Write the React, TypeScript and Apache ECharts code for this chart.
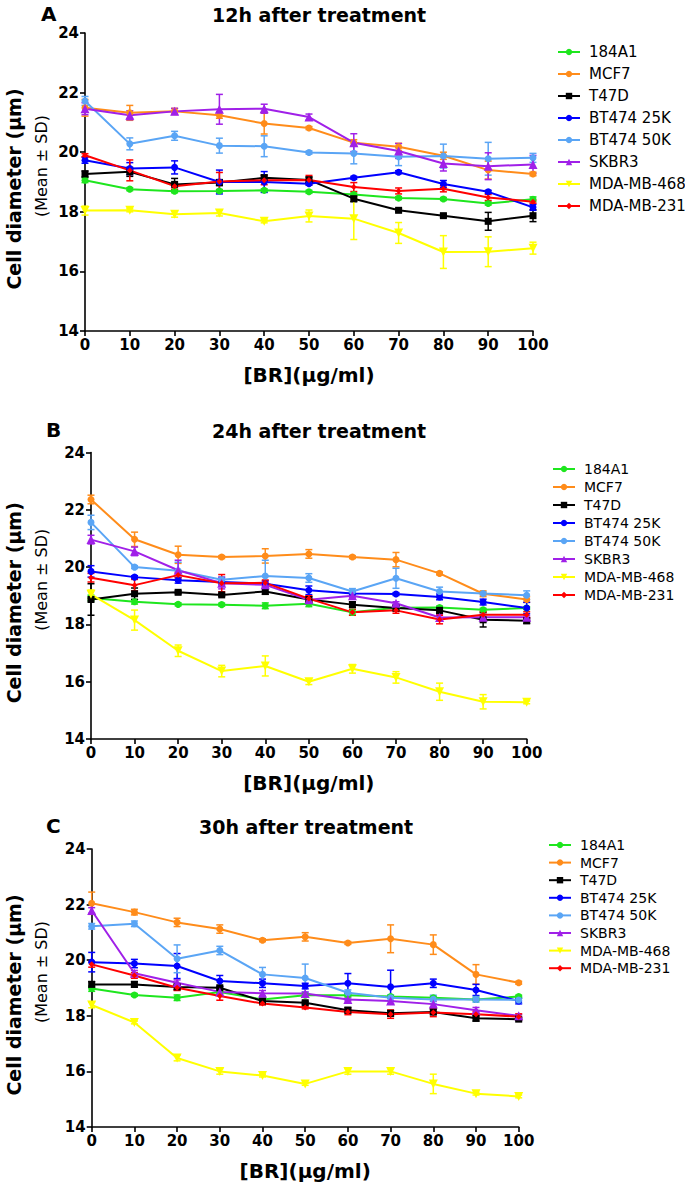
import React, { useEffect, useRef } from "react";
import * as echarts from "echarts";

// ---------- DATA ----------
const doses = [0, 10, 20, 30, 40, 50, 60, 70, 80, 90, 100];
const cellLines = ["184A1", "MCF7", "T47D", "BT474 25K", "BT474 50K", "SKBR3", "MDA-MB-468", "MDA-MB-231"];
const panelTitles = ["12h after treatment", "24h after treatment", "30h after treatment"];
const panelLetters = ["A", "B", "C"];
const xAxisTitle = "[BR](μg/ml)";
const yAxisTitle = "Cell diameter (μm)";
const yAxisSubtitle = "(Mean ± SD)";

// Panel A – 12 h (means)
const a184A1 = [19.06, 18.76, 18.69, 18.70, 18.72, 18.67, 18.58, 18.46, 18.43, 18.28, 18.42];
const aMCF7 = [21.49, 21.32, 21.37, 21.24, 20.96, 20.81, 20.32, 20.18, 19.88, 19.40, 19.27];
const aT47D = [19.27, 19.34, 18.92, 18.98, 19.14, 19.07, 18.44, 18.05, 17.87, 17.68, 17.87];
const aBT25 = [19.73, 19.45, 19.49, 19.00, 19.00, 18.94, 19.14, 19.33, 18.93, 18.67, 18.15];
const aBT50 = [21.72, 20.28, 20.55, 20.22, 20.20, 19.99, 19.96, 19.85, 19.87, 19.78, 19.81];
const aSKBR3 = [21.46, 21.24, 21.37, 21.44, 21.46, 21.18, 20.32, 20.04, 19.62, 19.53, 19.59];
const a468 = [18.04, 18.05, 17.92, 17.96, 17.68, 17.86, 17.77, 17.29, 16.65, 16.66, 16.78];
const a231 = [19.90, 19.39, 18.86, 19.02, 19.06, 19.07, 18.83, 18.70, 18.77, 18.48, 18.34];
// Panel A – SD
const a184A1Sd = [0.08, 0.05, 0.05, 0.05, 0.05, 0.05, 0.05, 0.05, 0.05, 0.05, 0.08];
const aMCF7Sd = [0.28, 0.25, 0.1, 0.1, 0.35, 0.05, 0.1, 0.12, 0.12, 0.3, 0.06];
const aT47DSd = [0.1, 0.15, 0.2, 0.1, 0.1, 0.1, 0.1, 0.05, 0.05, 0.3, 0.2];
const aBT25Sd = [0.1, 0.2, 0.22, 0.4, 0.35, 0.05, 0.05, 0.05, 0.12, 0.05, 0.1];
const aBT50Sd = [0.15, 0.2, 0.15, 0.25, 0.35, 0.05, 0.35, 0.3, 0.4, 0.55, 0.15];
const aSKBR3Sd = [0.2, 0.15, 0.1, 0.5, 0.15, 0.1, 0.3, 0.25, 0.25, 0.45, 0.3];
const a468Sd = [0.15, 0.05, 0.1, 0.1, 0.05, 0.2, 0.7, 0.35, 0.55, 0.5, 0.2];
const a231Sd = [0.05, 0.35, 0.1, 0.3, 0.15, 0.15, 0.15, 0.1, 0.1, 0.1, 0.05];

// Panel B – 24 h (means)
const b184A1 = [18.92, 18.79, 18.70, 18.69, 18.65, 18.72, 18.42, 18.58, 18.59, 18.51, 18.57];
const bMCF7 = [22.36, 20.97, 20.43, 20.35, 20.39, 20.46, 20.35, 20.26, 19.78, 19.07, 18.87];
const bT47D = [18.87, 19.07, 19.12, 19.03, 19.15, 18.87, 18.69, 18.57, 18.49, 18.16, 18.13];
const bBT25 = [19.85, 19.65, 19.54, 19.48, 19.42, 19.19, 19.08, 19.06, 18.96, 18.78, 18.57];
const bBT50 = [21.56, 20.00, 19.87, 19.56, 19.69, 19.62, 19.15, 19.61, 19.15, 19.08, 19.02];
const bSKBR3 = [20.96, 20.55, 19.89, 19.44, 19.38, 18.86, 19.00, 18.74, 18.24, 18.25, 18.25];
const b468 = [19.05, 18.15, 17.08, 16.37, 16.55, 16.00, 16.45, 16.15, 15.65, 15.30, 15.28];
const b231 = [19.63, 19.37, 19.72, 19.44, 19.45, 18.90, 18.42, 18.49, 18.17, 18.34, 18.34];
// Panel B – SD
const b184A1Sd = [0.1, 0.08, 0.05, 0.05, 0.1, 0.1, 0.1, 0.05, 0.05, 0.05, 0.05];
const bMCF7Sd = [0.15, 0.25, 0.3, 0.05, 0.25, 0.15, 0.05, 0.25, 0.05, 0.1, 0.1];
const bT47DSd = [0.55, 0.2, 0.05, 0.05, 0.1, 0.1, 0.1, 0.1, 0.1, 0.25, 0.1];
const bBT25Sd = [0.2, 0.05, 0.1, 0.1, 0.1, 0.15, 0.1, 0.05, 0.1, 0.1, 0.2];
const bBT50Sd = [0.25, 0.05, 0.3, 0.1, 0.55, 0.15, 0.1, 0.35, 0.15, 0.05, 0.15];
const bSKBR3Sd = [0.15, 0.15, 0.35, 0.2, 0.1, 0.1, 0.05, 0.05, 0.1, 0.1, 0.05];
const b468Sd = [0.15, 0.35, 0.2, 0.2, 0.35, 0.1, 0.15, 0.2, 0.3, 0.25, 0.05];
const b231Sd = [0.15, 0.2, 0.1, 0.3, 0.1, 0.1, 0.1, 0.1, 0.15, 0.1, 0.1];

// Panel C – 30 h (means)
const c184A1 = [18.98, 18.75, 18.65, 18.86, 18.59, 18.74, 18.74, 18.69, 18.65, 18.59, 18.69];
const cMCF7 = [22.05, 21.73, 21.36, 21.12, 20.72, 20.84, 20.62, 20.77, 20.56, 19.49, 19.19];
const cT47D = [19.13, 19.13, 19.04, 19.01, 18.53, 18.47, 18.20, 18.09, 18.14, 17.91, 17.88];
const cBT25 = [19.93, 19.88, 19.79, 19.25, 19.17, 19.07, 19.17, 19.04, 19.17, 18.93, 18.53];
const cBT50 = [21.22, 21.31, 20.05, 20.35, 19.49, 19.36, 18.83, 18.65, 18.59, 18.59, 18.57];
const cSKBR3 = [21.79, 19.53, 19.19, 18.86, 18.81, 18.80, 18.59, 18.53, 18.42, 18.20, 18.00];
const c468 = [18.39, 17.76, 16.48, 16.00, 15.85, 15.55, 16.00, 16.00, 15.55, 15.20, 15.10];
const c231 = [19.85, 19.45, 19.01, 18.71, 18.44, 18.30, 18.14, 18.06, 18.12, 18.06, 17.97];
// Panel C – SD
const c184A1Sd = [0.1, 0.05, 0.1, 0.05, 0.05, 0.05, 0.05, 0.05, 0.05, 0.05, 0.05];
const cMCF7Sd = [0.4, 0.1, 0.15, 0.15, 0.05, 0.15, 0.05, 0.5, 0.35, 0.35, 0.05];
const cT47DSd = [0.1, 0.1, 0.1, 0.05, 0.05, 0.05, 0.1, 0.1, 0.1, 0.1, 0.05];
const cBT25Sd = [0.35, 0.15, 0.45, 0.2, 0.15, 0.1, 0.35, 0.6, 0.15, 0.2, 0.1];
const cBT50Sd = [0.1, 0.1, 0.5, 0.15, 0.25, 0.5, 0.1, 0.1, 0.15, 0.1, 0.1];
const cSKBR3Sd = [0.1, 0.1, 0.1, 0.1, 0.1, 0.05, 0.05, 0.1, 0.1, 0.1, 0.05];
const c468Sd = [0.1, 0.05, 0.1, 0.1, 0.05, 0.05, 0.1, 0.1, 0.35, 0.05, 0.05];
const c231Sd = [0.1, 0.1, 0.1, 0.15, 0.05, 0.05, 0.1, 0.15, 0.15, 0.1, 0.1];

const panelMeans = [
  [a184A1, aMCF7, aT47D, aBT25, aBT50, aSKBR3, a468, a231],
  [b184A1, bMCF7, bT47D, bBT25, bBT50, bSKBR3, b468, b231],
  [c184A1, cMCF7, cT47D, cBT25, cBT50, cSKBR3, c468, c231],
];
const panelSds = [
  [a184A1Sd, aMCF7Sd, aT47DSd, aBT25Sd, aBT50Sd, aSKBR3Sd, a468Sd, a231Sd],
  [b184A1Sd, bMCF7Sd, bT47DSd, bBT25Sd, bBT50Sd, bSKBR3Sd, b468Sd, b231Sd],
  [c184A1Sd, cMCF7Sd, cT47DSd, cBT25Sd, cBT50Sd, cSKBR3Sd, c468Sd, c231Sd],
];

// ---------- STYLE / LAYOUT ----------
const lineColors = ["#1ee61e", "#ff8c1a", "#000000", "#0000ff", "#5aa5f5", "#a020e8", "#ffff00", "#ff0000"];
const markerShapes = ["circle", "circle", "rect", "circle", "circle", "triangle", "triangle", "diamond"];
const markerRotations = [0, 0, 0, 0, 0, 0, 180, 0];
const markerSizes = [7, 7, 7, 7, 7, 9, 9, 6];

const FONT = "'DejaVu Sans', 'Liberation Sans', sans-serif";

const grids = [
  { left: 85, top: 33, width: 448, height: 298 },
  { left: 91, top: 452.5, width: 435.7, height: 286.5 },
  { left: 91.7, top: 849, width: 427, height: 278 },
];
const legendPos = [
  { left: 552, top: 39, gap: 6, fs: 15 },
  { left: 547, top: 456, gap: 2, fs: 14 },
  { left: 543, top: 832, gap: 1.6, fs: 14 },
];
const titlePos = [
  { x: 212, y: 14.5 },
  { x: 212, y: 431 },
  { x: 199, y: 827 },
];
const letterPos = [
  { x: 41, y: 14 },
  { x: 46, y: 430 },
  { x: 46, y: 826 },
];

function buildOption() {
  const xAxis: any[] = [];
  const yAxis: any[] = [];
  const series: any[] = [];
  const legend: any[] = [];
  const graphic: any[] = [];

  grids.forEach((g, p) => {
    xAxis.push({
      type: "value",
      gridIndex: p,
      min: 0,
      max: 100,
      interval: 10,
      name: xAxisTitle,
      nameLocation: "middle",
      nameGap: 34,
      nameTextStyle: { fontFamily: FONT, fontWeight: "bold", fontSize: 20, color: "#000" },
      axisLine: { show: true, lineStyle: { color: "#000", width: 1.6 } },
      axisTick: { show: true, inside: false, length: 5, lineStyle: { color: "#000", width: 1.6 } },
      axisLabel: { fontFamily: FONT, fontWeight: "bold", fontSize: 15, color: "#000", margin: 6 },
      splitLine: { show: false },
    });
    yAxis.push({
      type: "value",
      gridIndex: p,
      min: 14,
      max: 24,
      interval: 2,
      axisLine: { show: true, lineStyle: { color: "#000", width: 1.6 } },
      axisTick: { show: true, inside: false, length: 5, lineStyle: { color: "#000", width: 1.6 } },
      axisLabel: { fontFamily: FONT, fontWeight: "bold", fontSize: 15, color: "#000", margin: 6 },
      splitLine: { show: false },
    });

    cellLines.forEach((name, s) => {
      const color = lineColors[s];
      const means = panelMeans[p][s];
      const sds = panelSds[p][s];
      series.push({
        type: "custom",
        name: name + " SD",
        xAxisIndex: p,
        yAxisIndex: p,
        silent: true,
        z: 2,
        encode: { x: 0, y: [1, 2] },
        data: doses.map((d, i) => [d, means[i] - sds[i], means[i] + sds[i]]),
        renderItem: (params: any, api: any) => {
          const x = api.value(0);
          const top = api.coord([x, api.value(2)]);
          const bot = api.coord([x, api.value(1)]);
          const w = 3.5;
          const st = { stroke: color, lineWidth: 1.5 };
          return {
            type: "group",
            children: [
              { type: "line", shape: { x1: top[0], y1: top[1], x2: bot[0], y2: bot[1] }, style: st },
              { type: "line", shape: { x1: top[0] - w, y1: top[1], x2: top[0] + w, y2: top[1] }, style: st },
              { type: "line", shape: { x1: bot[0] - w, y1: bot[1], x2: bot[0] + w, y2: bot[1] }, style: st },
            ],
          };
        },
      });
      series.push({
        type: "line",
        name,
        xAxisIndex: p,
        yAxisIndex: p,
        z: 3,
        data: doses.map((d, i) => [d, means[i]]),
        symbol: markerShapes[s],
        symbolRotate: markerRotations[s],
        symbolSize: markerSizes[s],
        showAllSymbol: true,
        itemStyle: { color },
        lineStyle: { color, width: 2 },
      });
    });

    const lp = legendPos[p];
    legend.push({
      orient: "vertical",
      left: lp.left,
      top: lp.top,
      data: cellLines,
      itemWidth: 22,
      itemHeight: 8,
      itemGap: lp.gap,
      selectedMode: false,
      textStyle: { fontFamily: FONT, fontSize: lp.fs, color: "#000", lineHeight: 16, padding: [0, 0, 0, 4] },
    });

    graphic.push({
      type: "text",
      x: titlePos[p].x,
      y: titlePos[p].y,
      style: {
        text: panelTitles[p],
        fontFamily: FONT,
        fontWeight: "bold",
        fontSize: 19,
        fill: "#000",
        align: "left",
        verticalAlign: "middle",
      },
    });
    graphic.push({
      type: "text",
      x: letterPos[p].x,
      y: letterPos[p].y,
      style: {
        text: panelLetters[p],
        fontFamily: FONT,
        fontWeight: "bold",
        fontSize: 20,
        fill: "#000",
        align: "left",
        verticalAlign: "middle",
      },
    });
    const midY = g.top + g.height / 2;
    graphic.push({
      type: "text",
      x: 14,
      y: midY + 7,
      rotation: Math.PI / 2,
      style: {
        text: yAxisTitle,
        fontFamily: FONT,
        fontWeight: "bold",
        fontSize: 19,
        fill: "#000",
        align: "center",
        verticalAlign: "middle",
      },
    });
    graphic.push({
      type: "text",
      x: 41,
      y: midY - 16,
      rotation: Math.PI / 2,
      style: {
        text: yAxisSubtitle,
        fontFamily: FONT,
        fontSize: 16,
        fill: "#000",
        align: "center",
        verticalAlign: "middle",
      },
    });
  });

  return {
    animation: false,
    backgroundColor: "#fff",
    grid: grids.map((g) => ({ ...g, containLabel: false })),
    xAxis,
    yAxis,
    legend,
    series,
    graphic,
  };
}

export default function App() {
  const ref = useRef<HTMLDivElement>(null);
  useEffect(() => {
    if (!ref.current) return;
    const chart = echarts.init(ref.current, null, { renderer: "svg" });
    chart.setOption(buildOption() as any);
    return () => chart.dispose();
  }, []);
  return (
    <div
      ref={ref}
      style={{ position: "fixed", left: 0, top: 0, width: 685, height: 1185, background: "#fff" }}
    />
  );
}
